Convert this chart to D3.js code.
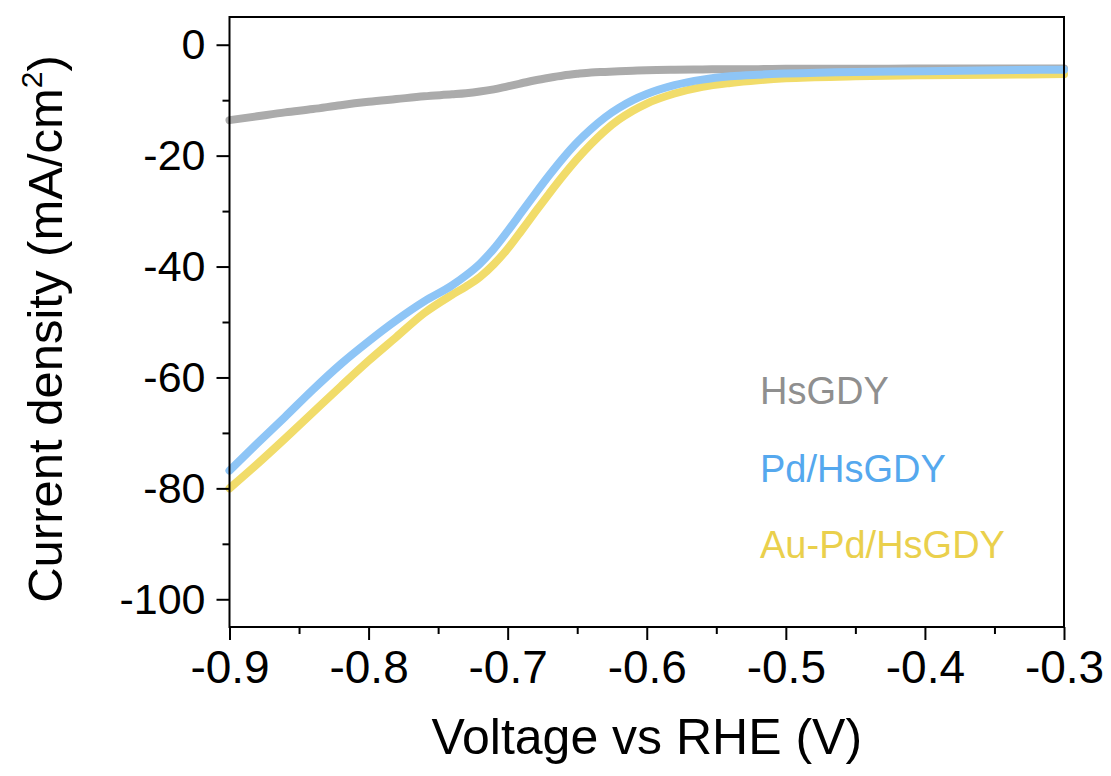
<!DOCTYPE html>
<html>
<head>
<meta charset="utf-8">
<script src="https://cdn.jsdelivr.net/npm/d3@7"></script>
<style>
  html, body { margin: 0; padding: 0; background: #fff; }
  svg { display: block; font-family: Arial, "Liberation Sans", Helvetica, sans-serif; }
</style>
</head>
<body>
<svg id="chart" width="1111" height="776"></svg>
<script>
// LSV polarization curves (current density vs potential)
const voltage = [-0.90, -0.88, -0.86, -0.84, -0.82, -0.80, -0.78, -0.76, -0.74, -0.73,
                 -0.72, -0.71, -0.70, -0.69, -0.68, -0.67, -0.66, -0.65, -0.64, -0.63,
                 -0.62, -0.61, -0.60, -0.58, -0.56, -0.54, -0.52, -0.50, -0.45, -0.40,
                 -0.35, -0.30];

const hsgdy = [-13.6, -12.9, -12.2, -11.6, -10.9, -10.3, -9.8, -9.3, -8.95, -8.75,
               -8.45, -8.05, -7.5, -6.95, -6.4, -5.95, -5.55, -5.25, -5.0, -4.9,
               -4.8, -4.7, -4.6, -4.5, -4.45, -4.4, -4.4, -4.35, -4.35, -4.3,
               -4.3, -4.3];

const pdHsgdy = [-76.8, -71.9, -67.1, -62.2, -57.6, -53.5, -49.7, -46.3, -43.4, -41.6,
                 -39.5, -36.8, -33.6, -30.2, -26.8, -23.5, -20.4, -17.6, -15.2, -13.1,
                 -11.4, -10.0, -8.9, -7.3, -6.3, -5.7, -5.4, -5.2, -4.9, -4.8,
                 -4.6, -4.5];

const auPdHsgdy = [-80.0, -75.6, -71.0, -66.3, -61.6, -57.0, -52.7, -48.4, -45.1, -43.6,
                   -41.9, -39.6, -36.8, -33.5, -30.1, -26.8, -23.6, -20.6, -17.9, -15.5,
                   -13.5, -11.9, -10.6, -8.8, -7.6, -6.9, -6.4, -6.05, -5.7, -5.5,
                   -5.4, -5.3];

const seriesNames = ["HsGDY", "Pd/HsGDY", "Au-Pd/HsGDY"];
const lineColors = ["#ababab", "#8ec5f6", "#f1dc6a"];
const labelColors = ["#8f8f8f", "#55a8ee", "#ead04c"];

const xTicks = [-0.9, -0.8, -0.7, -0.6, -0.5, -0.4, -0.3];
const xMinorTicks = [-0.85, -0.75, -0.65, -0.55, -0.45, -0.35];
const yTicks = [0, -20, -40, -60, -80, -100];
const yMinorTicks = [-10, -30, -50, -70, -90];

const svg = d3.select("#chart");
const plot = { left: 229.5, right: 1064, top: 17, bottom: 627 };

const x = d3.scaleLinear().domain([-0.9, -0.3]).range([plot.left, plot.right]);
const y = d3.scaleLinear().domain([-105, 5]).range([plot.bottom, plot.top]);

// curves: grey first, then yellow, blue on top
const allSeries = [
  { name: seriesNames[0], values: hsgdy, color: lineColors[0] },
  { name: seriesNames[2], values: auPdHsgdy, color: lineColors[2] },
  { name: seriesNames[1], values: pdHsgdy, color: lineColors[1] }
];

const line = d3.line()
  .x((d, i) => x(voltage[i]))
  .y(d => y(d))
  .curve(d3.curveMonotoneX);

svg.append("g")
  .selectAll("path")
  .data(allSeries)
  .join("path")
  .attr("d", d => line(d.values))
  .attr("fill", "none")
  .attr("stroke", d => d.color)
  .attr("stroke-width", 8)
  .attr("stroke-linecap", "round")
  .attr("stroke-linejoin", "round");

// frame
svg.append("rect")
  .attr("x", plot.left).attr("y", plot.top)
  .attr("width", plot.right - plot.left).attr("height", plot.bottom - plot.top)
  .attr("fill", "none").attr("stroke", "#000").attr("stroke-width", 2);

// bottom axis
const xAxis = d3.axisBottom(x).tickValues(xTicks).tickFormat(d3.format(".1f"))
  .tickSize(13).tickSizeOuter(0).tickPadding(10);
const gx = svg.append("g").attr("transform", `translate(0,${plot.bottom})`).call(xAxis);
gx.select(".domain").remove();
gx.selectAll(".tick line").attr("stroke", "#000").attr("stroke-width", 2);
gx.selectAll(".tick text").attr("font-size", 46).attr("fill", "#000")
  .attr("font-family", "Arial, 'Liberation Sans', sans-serif")
  .text(d => d3.format(".1f")(d).replace("−", "-"));

const xMinor = d3.axisBottom(x).tickValues(xMinorTicks).tickSize(7).tickFormat("");
const gxm = svg.append("g").attr("transform", `translate(0,${plot.bottom})`).call(xMinor);
gxm.select(".domain").remove();
gxm.selectAll(".tick line").attr("stroke", "#000").attr("stroke-width", 2);

// left axis
const yAxis = d3.axisLeft(y).tickValues(yTicks).tickFormat(d => String(d))
  .tickSize(13).tickSizeOuter(0).tickPadding(11);
const gy = svg.append("g").attr("transform", `translate(${plot.left},0)`).call(yAxis);
gy.select(".domain").remove();
gy.selectAll(".tick line").attr("stroke", "#000").attr("stroke-width", 2);
gy.selectAll(".tick text").attr("font-size", 43).attr("fill", "#000")
  .attr("font-family", "Arial, 'Liberation Sans', sans-serif");

const yMinor = d3.axisLeft(y).tickValues(yMinorTicks).tickSize(7).tickFormat("");
const gym = svg.append("g").attr("transform", `translate(${plot.left},0)`).call(yMinor);
gym.select(".domain").remove();
gym.selectAll(".tick line").attr("stroke", "#000").attr("stroke-width", 2);

// axis titles
svg.append("text")
  .attr("x", (plot.left + plot.right) / 2)
  .attr("y", 754)
  .attr("text-anchor", "middle")
  .attr("font-size", 50)
  .attr("fill", "#000")
  .text("Voltage vs RHE (V)");

const yTitle = svg.append("text")
  .attr("transform", `translate(62,${(plot.top + plot.bottom) / 2 + 7}) rotate(-90)`)
  .attr("text-anchor", "middle")
  .attr("font-size", 49)
  .attr("fill", "#000");
yTitle.append("tspan").text("Current density (mA/cm");
yTitle.append("tspan").attr("font-size", 30).attr("dy", -20).text("2");
yTitle.append("tspan").attr("dy", 20).text(")");

// legend labels
const legendY = [404, 482, 558];
svg.append("g")
  .selectAll("text")
  .data(seriesNames)
  .join("text")
  .attr("x", 760)
  .attr("y", (d, i) => legendY[i])
  .attr("font-size", 38)
  .attr("fill", (d, i) => labelColors[i])
  .text(d => d);
</script>
</body>
</html>
